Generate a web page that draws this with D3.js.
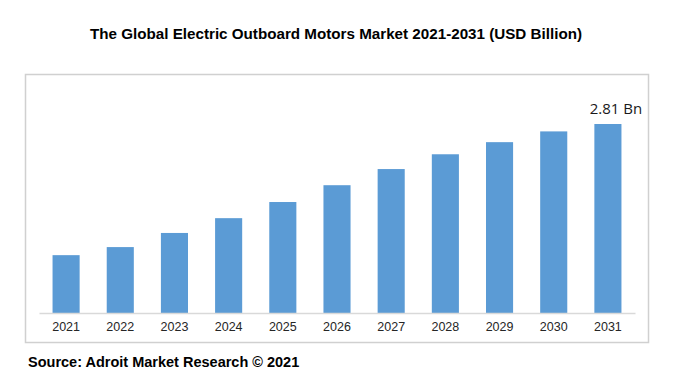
<!DOCTYPE html>
<html lang="en">
<head>
    <script src="https://d3js.org/d3.v7.min.js"></script>
    <title>Electric Outboard Motors Market</title>
    <style>
        body {margin: 0; background: #fff;}
        svg {display: block;}
        text {font-family: "Liberation Sans", Arial, sans-serif;}
    </style>
</head>
<body>
<svg width="677" height="386"></svg>

<script>
    // data (USD billion)
    var years = ['2021', '2022', '2023', '2024', '2025', '2026', '2027', '2028', '2029', '2030', '2031'];
    var values = [0.86, 0.98, 1.19, 1.41, 1.65, 1.90, 2.14, 2.36, 2.54, 2.70, 2.81];
    var lastLabel = ['2.81 Bn'];

    var svg = d3.select('svg');

    // title
    svg.append('text')
        .attr('x', 336).attr('y', 39)
        .attr('text-anchor', 'middle')
        .style('font-size', '15.2px').style('font-weight', 'bold')
        .text('The Global Electric Outboard Motors Market 2021-2031 (USD Billion)');

    // outer box
    svg.append('rect')
        .attr('x', 25.5).attr('y', 74.5).attr('width', 623).attr('height', 268)
        .attr('fill', 'none').attr('stroke', '#d0d0d0').attr('stroke-width', 1.5);

    var x = d3.scaleBand().domain(years).range([39, 635]).paddingInner(0.5).paddingOuter(0.25);
    var y = d3.scaleLinear().domain([0, 2.81]).range([313, 124]);

    // bars
    svg.selectAll('rect.bar')
        .data(values).enter().append('rect')
        .attr('class', 'bar')
        .attr('x', (d, i) => x(years[i]))
        .attr('width', x.bandwidth())
        .attr('y', d => y(d))
        .attr('height', d => y(0) - y(d))
        .attr('fill', '#5b9bd5');

    // x axis
    var xAxis = svg.append('g')
        .attr('transform', 'translate(0,' + y(0) + ')')
        .call(d3.axisBottom(x).tickSize(0).tickPadding(9));
    xAxis.select('.domain').attr('stroke', '#d9d9d9').attr('stroke-width', 1.5);
    xAxis.selectAll('text')
        .style('font-size', '12.5px').style('font-family', '"Liberation Sans", Arial, sans-serif')
        .attr('fill', '#262626');

    // value label on last bar
    svg.selectAll('text.val')
        .data(lastLabel).enter().append('text')
        .attr('class', 'val')
        .attr('x', x(years[10]) + x.bandwidth() / 2 + 8)
        .attr('y', y(values[10]) - 10)
        .attr('text-anchor', 'middle')
        .style('font-size', '15px').style('font-family', '"Open Sans", sans-serif')
        .attr('fill', '#1a1a1a')
        .text(d => d);

    // source
    svg.append('text')
        .attr('x', 28).attr('y', 367)
        .style('font-size', '14.5px').style('font-weight', 'bold')
        .text('Source: Adroit Market Research \u00a9 2021');
</script>
</body>
</html>
